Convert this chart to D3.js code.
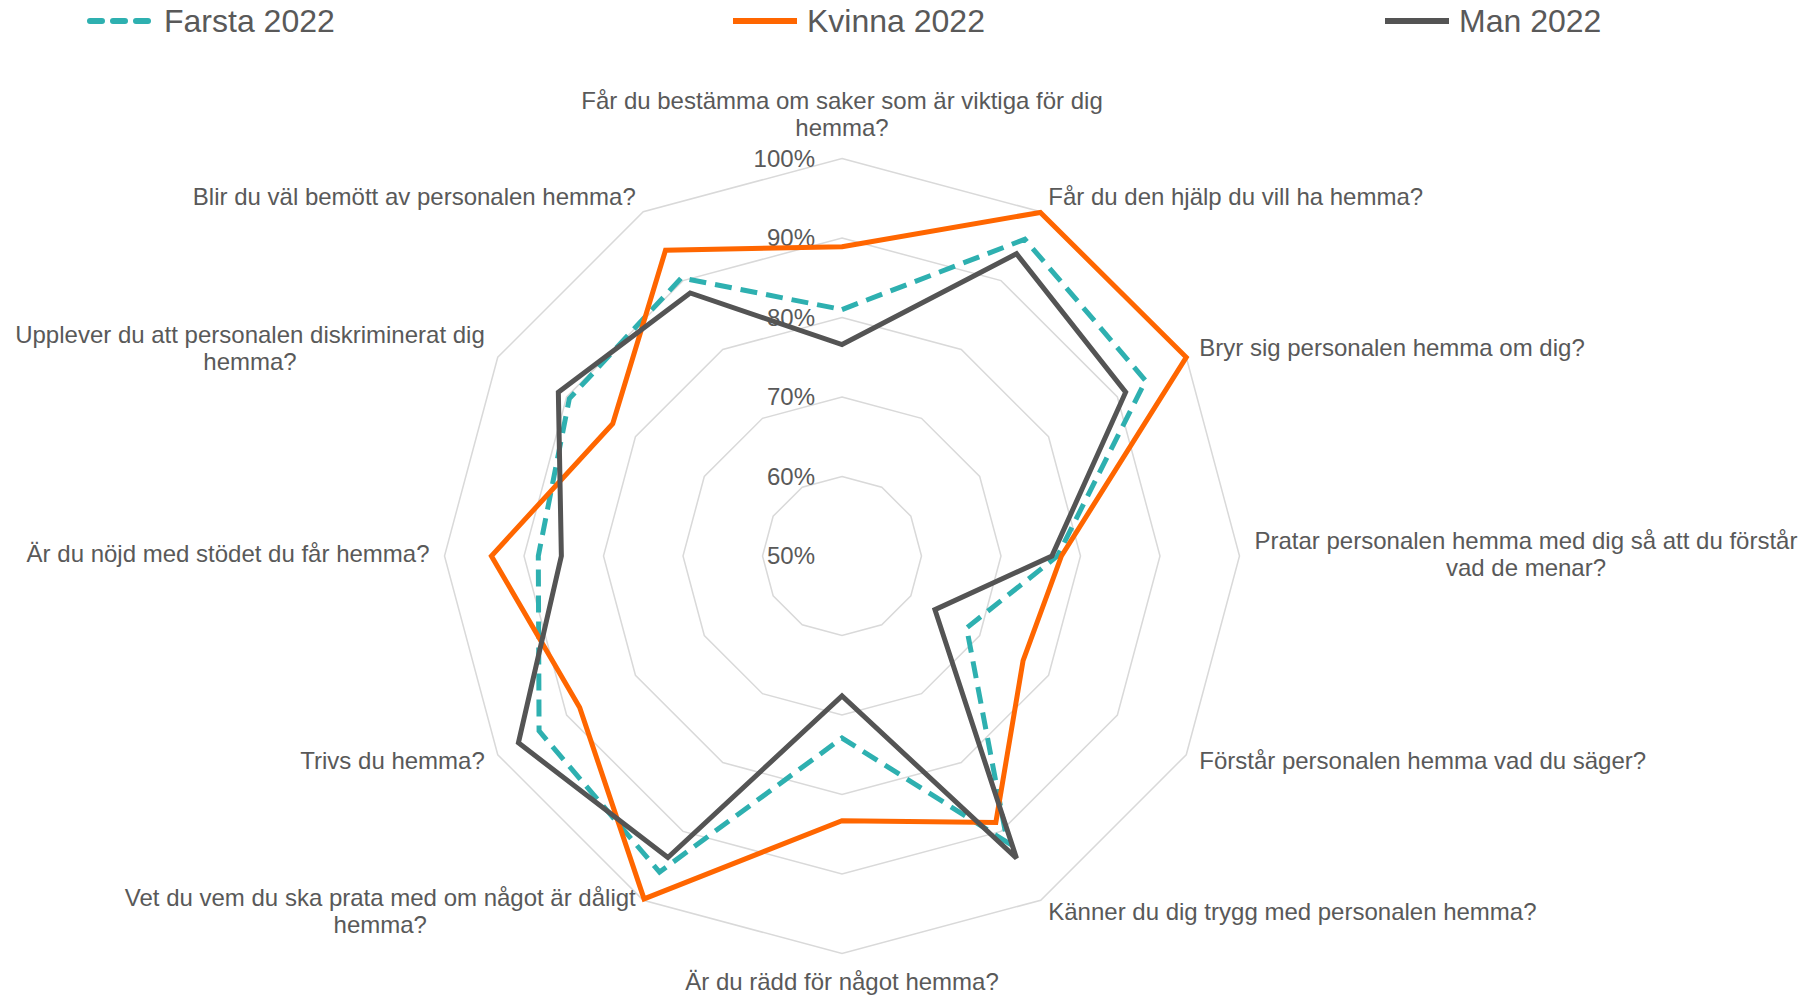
<!DOCTYPE html>
<html>
<head>
<meta charset="utf-8">
<script src="https://cdn.jsdelivr.net/npm/d3@7"></script>
<style>
  body { margin: 0; background: #fff; }
  svg text { font-family: "Liberation Sans", Arial, sans-serif; fill: #595959; }
</style>
</head>
<body>
<div id="radar"></div>
<script>
// questions, clockwise from the top ("\n" = line break as in the chart)
const categories = [
  "Får du bestämma om saker som är viktiga för dig\nhemma?",
  "Får du den hjälp du vill ha hemma?",
  "Bryr sig personalen hemma om dig?",
  "Pratar personalen hemma med dig så att du förstår\nvad de menar?",
  "Förstår personalen hemma vad du säger?",
  "Känner du dig trygg med personalen hemma?",
  "Är du rädd för något hemma?",
  "Vet du vem du ska prata med om något är dåligt\nhemma?",
  "Trivs du hemma?",
  "Är du nöjd med stödet du får hemma?",
  "Upplever du att personalen diskriminerat dig\nhemma?",
  "Blir du väl bemött av personalen hemma?"
];

const farsta = [0.810, 0.960, 0.941, 0.771, 0.681, 0.916, 0.729, 0.959, 0.940, 0.882, 0.896, 0.904];
const kvinna = [0.889, 0.999, 1.000, 0.776, 0.763, 0.887, 0.833, 0.998, 0.881, 0.941, 0.833, 0.944];
const man    = [0.766, 0.939, 0.912, 0.764, 0.635, 0.939, 0.676, 0.938, 0.970, 0.853, 0.912, 0.882];

const seriesNames = ["Farsta 2022", "Kvinna 2022", "Man 2022"];
const ticks = [0.5, 0.6, 0.7, 0.8, 0.9, 1.0];

(function() {
  const width = 1813, height = 996;
  const cx = 842, cy = 556, R = 397.5;

  const svg = d3.select("#radar")
    .append("svg")
      .attr("width", width)
      .attr("height", height);

  const r = d3.scaleLinear().domain([0.5, 1]).range([0, R]);
  const angle = d3.scaleLinear().domain([0, categories.length]).range([0, 2 * Math.PI]);

  const g = svg.append("g").attr("transform", `translate(${cx},${cy})`);

  // grid rings (50% is the centre point)
  const ring = d3.lineRadial()
    .angle((d, i) => angle(i))
    .radius(d => r(d))
    .curve(d3.curveLinearClosed);

  g.selectAll(".ring")
    .data(ticks.filter(t => t > 0.5))
    .enter()
    .append("path")
      .attr("d", t => ring(categories.map(() => t)))
      .attr("fill", "none")
      .attr("stroke", "#d9d9d9")
      .attr("stroke-width", 1.5);

  // percent labels along the top axis
  g.selectAll(".tick")
    .data(ticks)
    .enter()
    .append("text")
      .attr("x", -27)
      .attr("y", t => -r(t))
      .attr("dy", "0.35em")
      .attr("text-anchor", "end")
      .style("font-size", "24px")
      .text(d3.format(".0%"));

  // series
  const series = [
    {name: seriesNames[0], values: farsta, color: "#2eb0b0", dash: "17,9"},
    {name: seriesNames[1], values: kvinna, color: "#ff6600", dash: null},
    {name: seriesNames[2], values: man,    color: "#545454", dash: null}
  ];

  series.forEach(s => {
    g.append("path")
      .datum(s.values)
      .attr("d", ring)
      .attr("fill", "none")
      .attr("stroke", s.color)
      .attr("stroke-width", 5)
      .attr("stroke-linejoin", "miter")
      .attr("stroke-dasharray", s.dash);
  });

  // category labels
  const lineH = 27;
  categories.forEach((c, i) => {
    const a = angle(i);
    const px = Math.sin(a) * (R + 15), py = -Math.cos(a) * (R + 15);
    const lines = c.split("\n");
    const t = g.append("text").style("font-size", "24px");
    const spans = lines.map(l => t.append("tspan").text(l));
    const widths = spans.map(sp => sp.node().getComputedTextLength());
    const w = d3.max(widths);

    // horizontal block placement
    let left;
    const sx = Math.round(Math.sin(a) * 1000) / 1000;
    if (sx > 0) left = px;
    else if (sx < 0) left = px - w;
    else left = px - w / 2;

    // vertical block placement
    const blockH = lines.length * lineH;
    let top;
    const cyv = Math.round(Math.cos(a) * 1000) / 1000;
    if (cyv === 1) top = py - blockH - 2;
    else if (cyv === -1) top = py;
    else top = py - blockH / 2 - 2;

    spans.forEach((sp, k) => {
      sp.attr("x", left + w / 2)
        .attr("y", top + lineH * k + lineH / 2)
        .attr("dy", "0.35em")
        .attr("text-anchor", "middle");
    });
  });

  // legend
  const legendX = [90, 733, 1385];
  const legend = svg.selectAll(".legend")
    .data(series)
    .enter()
    .append("g")
      .attr("transform", (d, i) => `translate(${legendX[i]},21)`);

  legend.append("line")
    .attr("x1", 0).attr("x2", 64)
    .attr("y1", 0).attr("y2", 0)
    .attr("stroke", d => d.color)
    .attr("stroke-width", 6)
    .attr("stroke-dasharray", d => d.dash ? "12,11" : null)
    .attr("stroke-linecap", d => d.dash ? "round" : "butt");

  legend.append("text")
    .attr("x", 74)
    .attr("dy", "0.35em")
    .style("font-size", "32px")
    .text(d => d.name);
})();
</script>
</body>
</html>
